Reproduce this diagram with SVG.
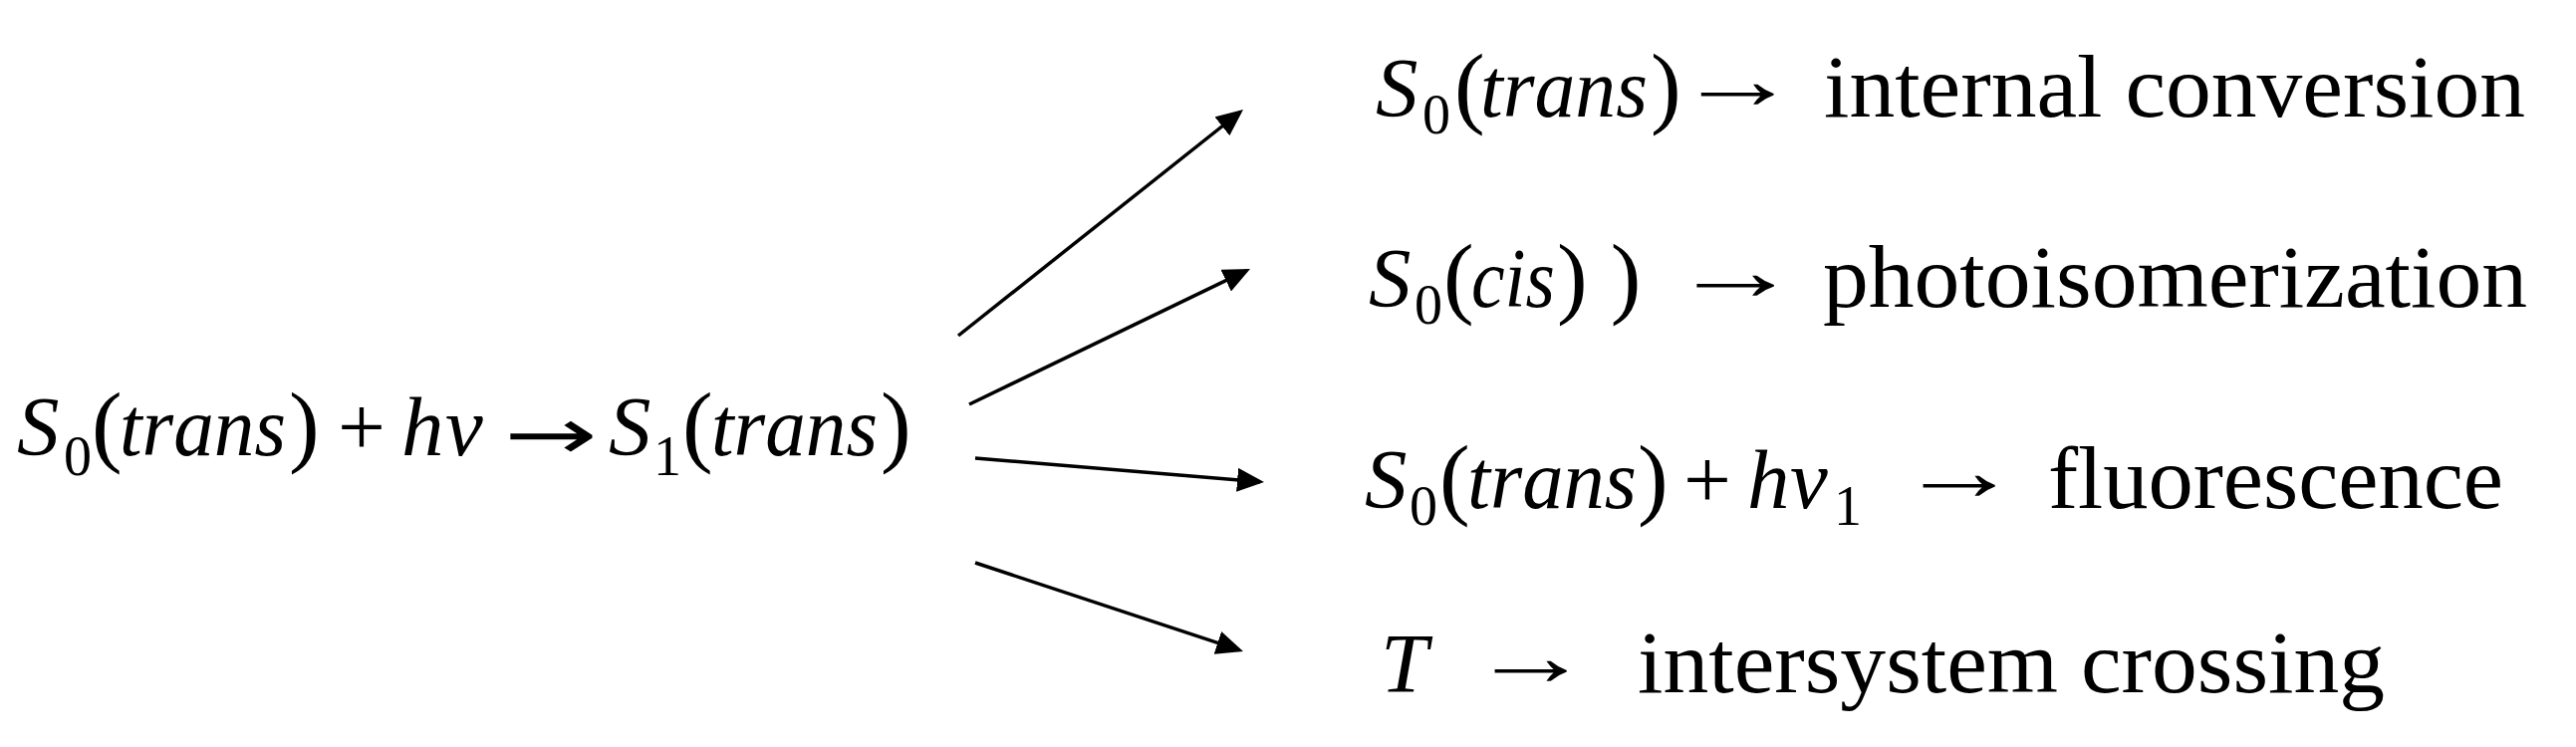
<svg xmlns="http://www.w3.org/2000/svg" width="2586" height="750" viewBox="0 0 2586 750">
<style>
text { fill: #000; font-family: "Liberation Serif", "Times New Roman", serif; font-size: 85px; font-style: italic; }
.up { font-style: normal; font-size: 88px; }
.sub { font-style: normal; font-size: 56px; }
.par { font-style: normal; font-size: 92px; }
.pl { font-style: normal; font-size: 85px; }
.tar { font-style: normal; font-size: 85px; }
.arh { font-family: "DejaVu Sans", sans-serif; font-style: normal; font-size: 72px; }
.conn { stroke: #000; stroke-width: 3.5; fill: none; marker-end: url(#head); }
</style>
<defs>
<marker id="head" viewBox="0 0 27 24" refX="23" refY="12" markerWidth="27" markerHeight="24" markerUnits="userSpaceOnUse" orient="auto">
<path d="M0,0 L27,12 L0,24 Z" fill="#000"/>
</marker>
</defs>
<rect width="2586" height="750" fill="#fff"/>

<g id="node-source">
<text y="457"><tspan x="17">S</tspan><tspan class="sub" x="64" y="477">0</tspan><tspan class="par" x="92" y="457">(</tspan><tspan x="120" textLength="167" lengthAdjust="spacingAndGlyphs">trans</tspan><tspan class="par" x="290">)</tspan><tspan class="pl" x="339">+</tspan><tspan x="403">h</tspan><tspan x="447">ν</tspan><tspan class="arh" x="506" y="461" textLength="94" lengthAdjust="spacingAndGlyphs">→</tspan><tspan x="611" y="457">S</tspan><tspan class="sub" x="656" y="477">1</tspan><tspan class="par" x="685" y="457">(</tspan><tspan x="714" textLength="167" lengthAdjust="spacingAndGlyphs">trans</tspan><tspan class="par" x="884">)</tspan></text>
</g>

<g id="node-internal-conversion">
<text y="117"><tspan x="1381">S</tspan><tspan class="sub" x="1428" y="134">0</tspan><tspan class="par" x="1460" y="117">(</tspan><tspan x="1486" textLength="168" lengthAdjust="spacingAndGlyphs">trans</tspan><tspan class="par" x="1657">)</tspan><tspan class="tar" x="1683" y="109" textLength="123" lengthAdjust="spacingAndGlyphs">→</tspan><tspan class="up" x="1831" y="117" textLength="704" lengthAdjust="spacingAndGlyphs">internal conversion</tspan></text>
</g>

<g id="node-photoisomerization">
<text y="308"><tspan x="1374">S</tspan><tspan class="sub" x="1420" y="325">0</tspan><tspan class="par" x="1449" y="308">(</tspan><tspan x="1477" textLength="84" lengthAdjust="spacingAndGlyphs">cis</tspan><tspan class="par" x="1563">) )</tspan><tspan class="tar" x="1677" y="301" textLength="131" lengthAdjust="spacingAndGlyphs">→</tspan><tspan class="up" x="1830" y="308" textLength="707" lengthAdjust="spacingAndGlyphs">photoisomerization</tspan></text>
</g>

<g id="node-fluorescence">
<text y="510"><tspan x="1370">S</tspan><tspan class="sub" x="1415" y="527">0</tspan><tspan class="par" x="1445" y="510">(</tspan><tspan x="1473" textLength="170" lengthAdjust="spacingAndGlyphs">trans</tspan><tspan class="par" x="1644">)</tspan><tspan class="pl" x="1690">+</tspan><tspan x="1754">h</tspan><tspan x="1797">ν</tspan><tspan class="sub" x="1841" y="527">1</tspan><tspan class="tar" x="1906" y="502" textLength="122" lengthAdjust="spacingAndGlyphs">→</tspan><tspan class="up" x="2056" y="510" textLength="457" lengthAdjust="spacingAndGlyphs">fluorescence</tspan></text>
</g>

<g id="node-intersystem-crossing">
<text y="695"><tspan x="1386">T</tspan><tspan class="tar" x="1476" y="688" textLength="122" lengthAdjust="spacingAndGlyphs">→</tspan><tspan class="up" x="1644" y="695" textLength="750" lengthAdjust="spacingAndGlyphs">intersystem crossing</tspan></text>
</g>

<g id="connectors">
<line class="conn" x1="962" y1="337" x2="1244.9" y2="112.5"/>
<line class="conn" x1="973" y1="406" x2="1251.4" y2="271.7"/>
<line class="conn" x1="979" y1="460" x2="1265" y2="483.7"/>
<line class="conn" x1="979" y1="565" x2="1244.2" y2="652.7"/>
</g>
</svg>
